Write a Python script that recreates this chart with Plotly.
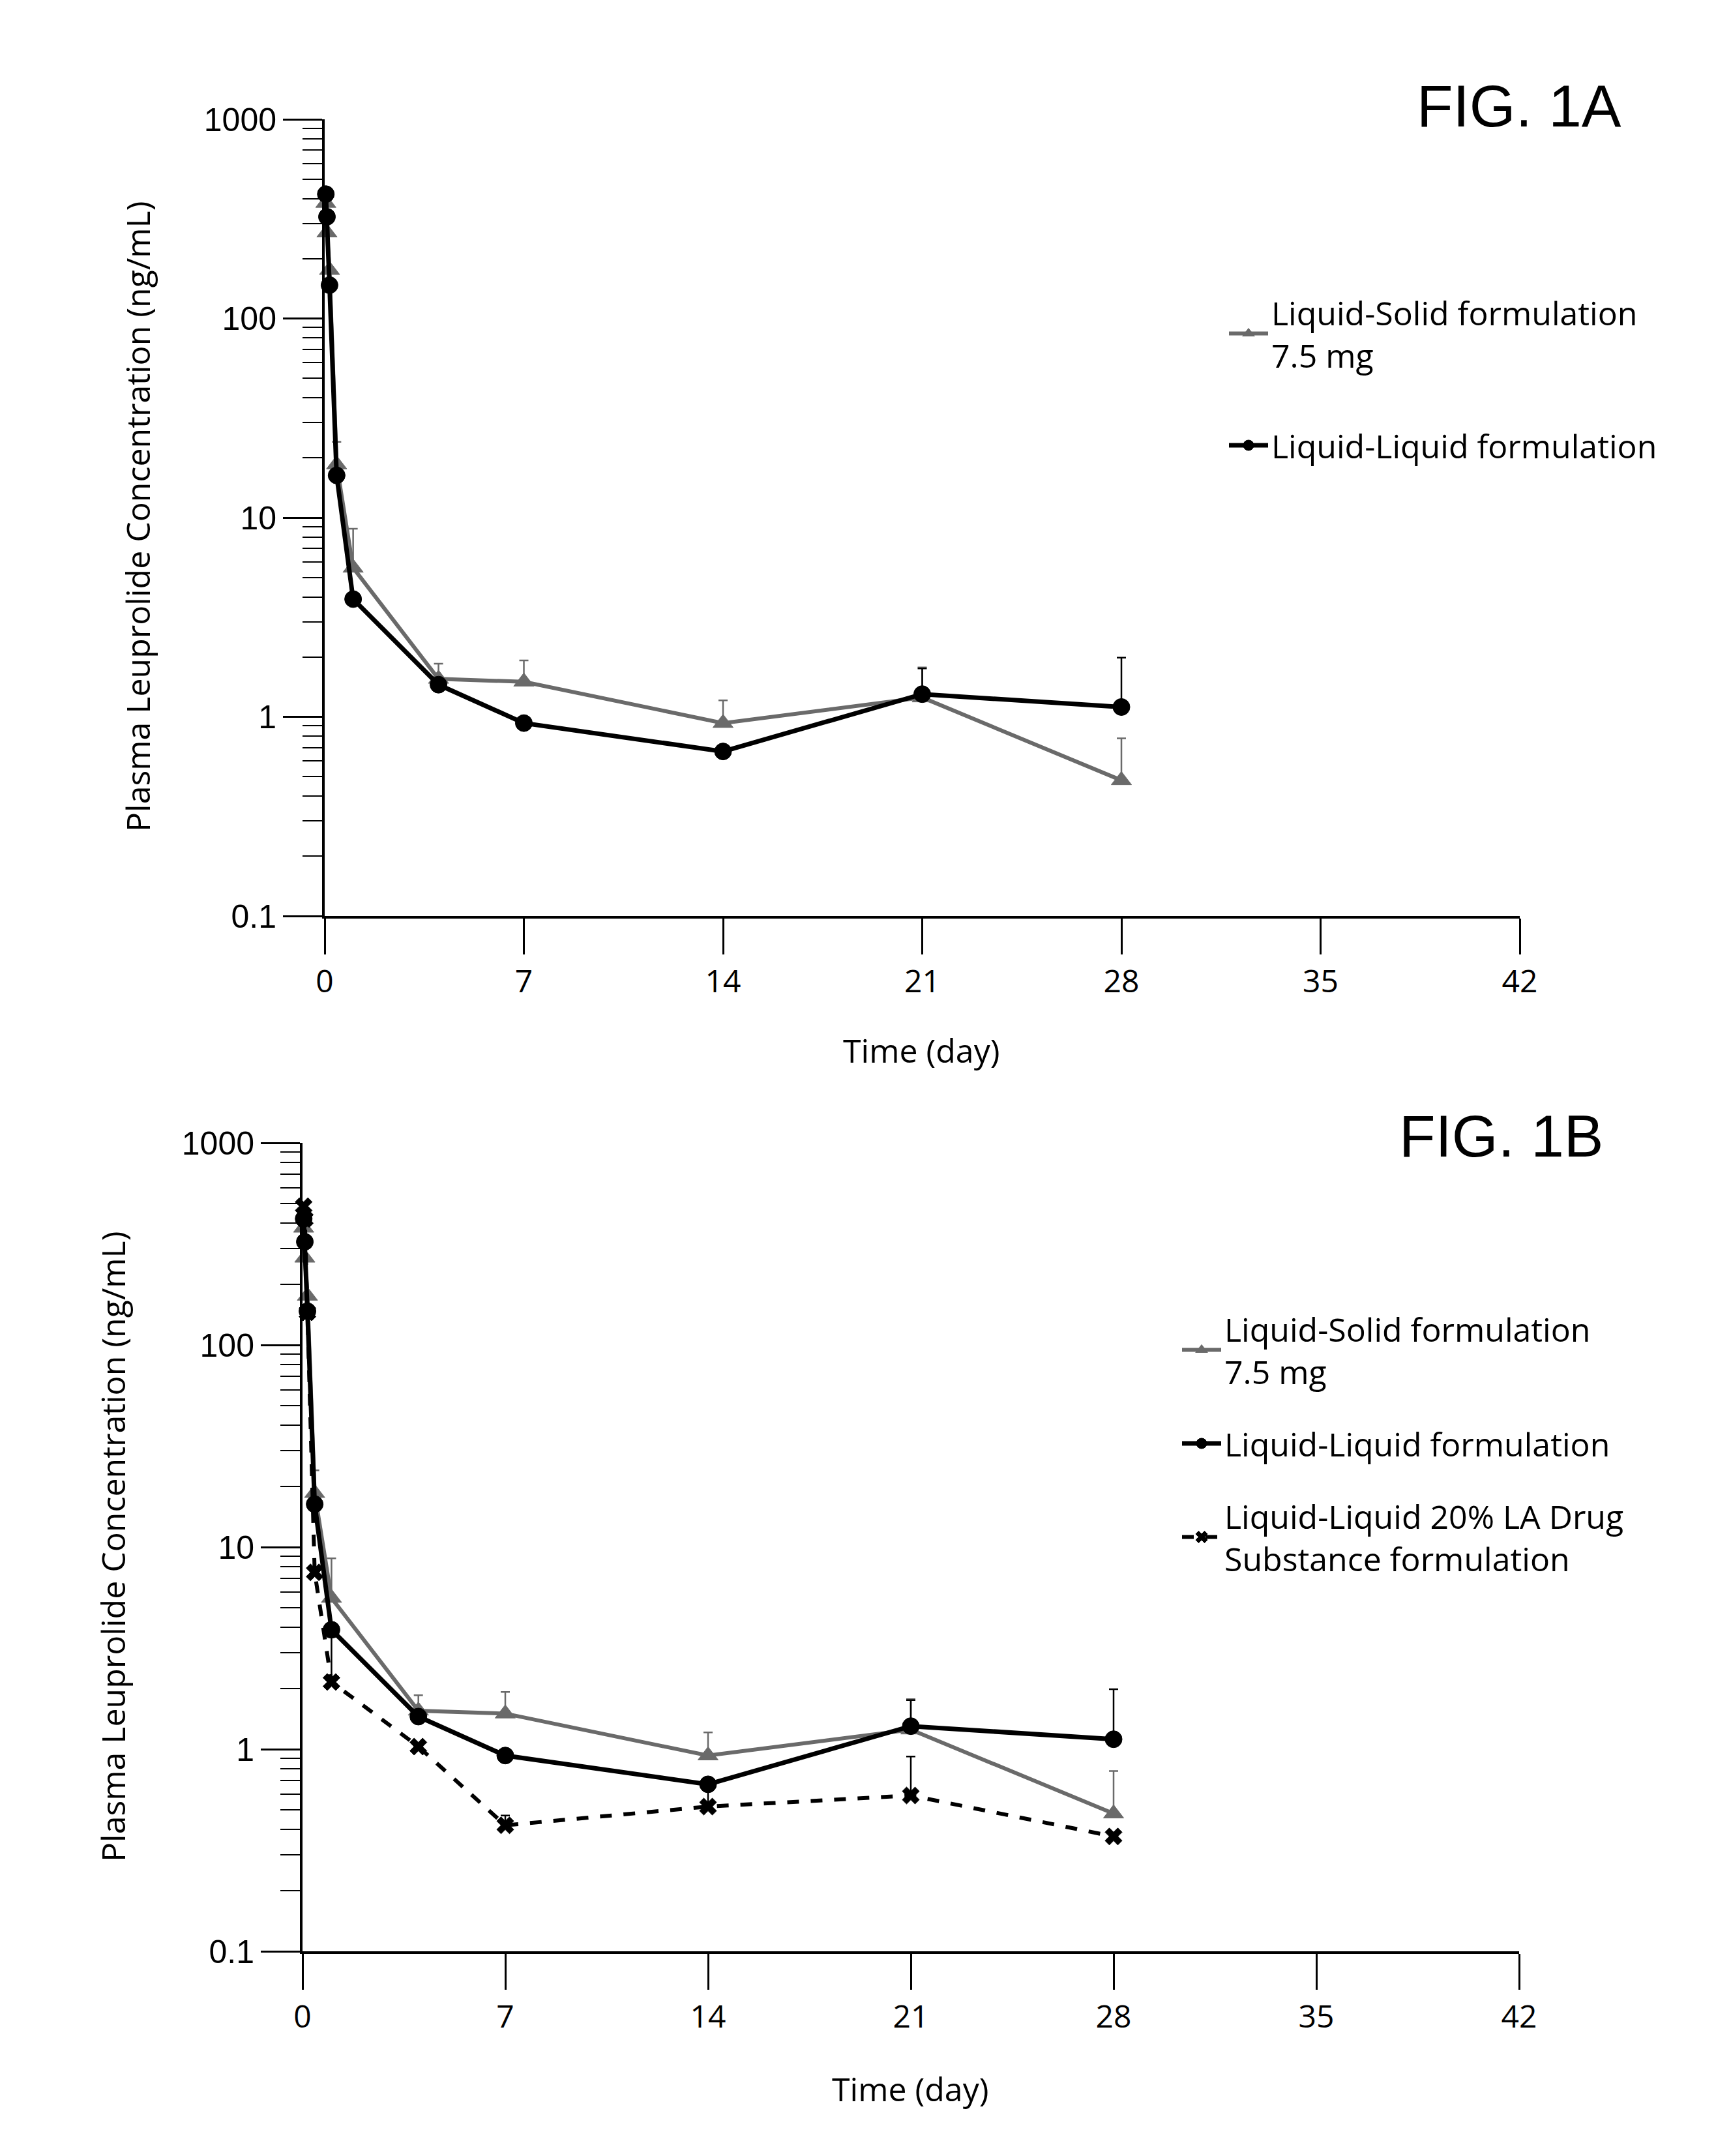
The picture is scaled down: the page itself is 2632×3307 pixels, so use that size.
import plotly.graph_objects as go

# ---------------- data ----------------
time_day = [0.04, 0.08, 0.17, 0.42, 1, 4, 7, 14, 21, 28]

ls_name = "Liquid-Solid formulation<br>7.5 mg"
ls_vals = [380, 270, 175, 18.5, 5.6, 1.55, 1.5, 0.93, 1.25, 0.48]
ls_upper = [380, 270, 175, 24, 8.8, 1.85, 1.92, 1.21, 1.77, 0.78]

ll_name = "Liquid-Liquid formulation"
ll_vals = [421, 324, 147, 16.3, 3.9, 1.45, 0.93, 0.67, 1.3, 1.12]
ll_upper = [421, 324, 147, 16.3, 3.9, 1.45, 0.93, 0.67, 1.75, 1.98]

la_name = "Liquid-Liquid 20% LA Drug<br>Substance formulation"
la_vals = [486, 420, 145, 7.5, 2.15, 1.03, 0.42, 0.52, 0.59, 0.37]
la_upper = [486, 420, 145, 7.5, 3.6, 1.03, 0.47, 0.62, 0.92, 0.37]

x_ticks = [0, 7, 14, 21, 28, 35, 42]
y_ticks = [0.1, 1, 10, 100, 1000]
y_ticktext = ["0.1", "1", "10", "100", "1000"]
y_minor_ticks = [m * d for d in [0.1, 1, 10, 100] for m in range(2, 10)]

x_title = "Time (day)"
y_title = "Plasma Leuprolide Concentration (ng/mL)"
panel_titles = ["FIG. 1A", "FIG. 1B"]

# ---------------- styling ----------------
W, H = 2632, 3307
GRAY = "#6a6a6a"
TITLE_FONT = "Open Sans"
TICK_FONT = "Liberation Sans"


def up_err(vals, upper):
    return [u - v for v, u in zip(vals, upper)]


def series(name, vals, upper, color, symbol, size, dash, width, xa, ya, legend):
    return go.Scatter(
        x=time_day, y=vals, name=name, mode="lines+markers",
        line=dict(color=color, width=width, dash=dash),
        marker=dict(symbol=symbol, size=size, color=color,
                    line=dict(color=color, width=1)),
        error_y=dict(type="data", symmetric=False, array=up_err(vals, upper),
                     arrayminus=[0] * len(vals), color=color, thickness=2.5, width=7),
        xaxis=xa, yaxis=ya, legend=legend, legendgroup=name + legend,
        cliponaxis=False,
    )


fig = go.Figure()

# Panel A
fig.add_trace(series(ls_name, ls_vals, ls_upper, GRAY, "triangle-up", 27, "solid", 6, "x", "y", "legend"))
fig.add_trace(series(ll_name, ll_vals, ll_upper, "black", "circle", 26, "solid", 7, "x", "y", "legend"))
# Panel B
fig.add_trace(series(ls_name, ls_vals, ls_upper, GRAY, "triangle-up", 27, "solid", 6, "x2", "y2", "legend2"))
fig.add_trace(series(ll_name, ll_vals, ll_upper, "black", "circle", 26, "solid", 7, "x2", "y2", "legend2"))
fig.add_trace(series(la_name, la_vals, la_upper, "black", "x", 23, "dash", 6, "x2", "y2", "legend2"))

xaxis_common = dict(
    range=[0, 42], tickmode="array", tickvals=x_ticks, ticks="outside", ticklen=55, tickwidth=3,
    tickcolor="black", showline=True, linecolor="black", linewidth=4,
    showgrid=False, zeroline=False, automargin=False,
    tickfont=dict(family=TITLE_FONT, size=48, color="black"),
)
yaxis_common = dict(
    type="log", range=[-1, 3], tickmode="array", tickvals=y_ticks, ticktext=y_ticktext,
    ticks="outside", ticklen=60, tickwidth=3, tickcolor="black",
    showline=True, linecolor="black", linewidth=4, showgrid=False, zeroline=False,
    automargin=False,
    tickfont=dict(family=TICK_FONT, size=50, color="black"),
    minor=dict(tickmode="array", tickvals=y_minor_ticks, ticks="outside", ticklen=30,
               tickwidth=2, tickcolor="black", showgrid=False),
)

legend_common = dict(
    font=dict(family=TITLE_FONT, size=50, color="black"),
    bgcolor="rgba(0,0,0,0)", borderwidth=0,
    itemwidth=60, xanchor="left", yanchor="top", valign="middle",
)

fig.update_layout(
    width=W, height=H, margin=dict(l=0, r=0, t=0, b=0, pad=0, autoexpand=False),
    paper_bgcolor="white", plot_bgcolor="white",
    xaxis=dict(domain=[498 / W, 2331 / W], anchor="y", **xaxis_common),
    yaxis=dict(domain=[1 - 1405 / H, 1 - 183 / H], anchor="x", **yaxis_common),
    xaxis2=dict(domain=[464 / W, 2330 / W], anchor="y2", **xaxis_common),
    yaxis2=dict(domain=[1 - 2993 / H, 1 - 1753 / H], anchor="x2", **yaxis_common),
    legend=dict(x=1880 / W, y=1 - 440 / H, tracegroupgap=71, **legend_common),
    legend2=dict(x=1808 / W, y=1 - 1999 / H, tracegroupgap=43, **legend_common),
    showlegend=True,
)

ann = []
# axis titles
ann.append(dict(text=y_title, x=211 / W, y=1 - 793 / H, textangle=-90))
ann.append(dict(text=y_title, x=173 / W, y=1 - 2373 / H, textangle=-90))
ann.append(dict(text=x_title, x=1413 / W, y=1 - 1611 / H, textangle=0))
ann.append(dict(text=x_title, x=1396 / W, y=1 - 3204 / H, textangle=0))
for a in ann:
    a.update(xref="paper", yref="paper", showarrow=False, xanchor="center", yanchor="middle",
             font=dict(family=TITLE_FONT, size=50, color="black"))
    fig.add_annotation(**a)

fig.add_annotation(text=panel_titles[0], x=2330 / W, y=1 - 162 / H, xref="paper", yref="paper",
                   showarrow=False, xanchor="center", yanchor="middle",
                   font=dict(family=TICK_FONT, size=91, color="black"))
fig.add_annotation(text=panel_titles[1], x=2303 / W, y=1 - 1742 / H, xref="paper", yref="paper",
                   showarrow=False, xanchor="center", yanchor="middle",
                   font=dict(family=TICK_FONT, size=91, color="black"))

fig.write_html("out.html")
